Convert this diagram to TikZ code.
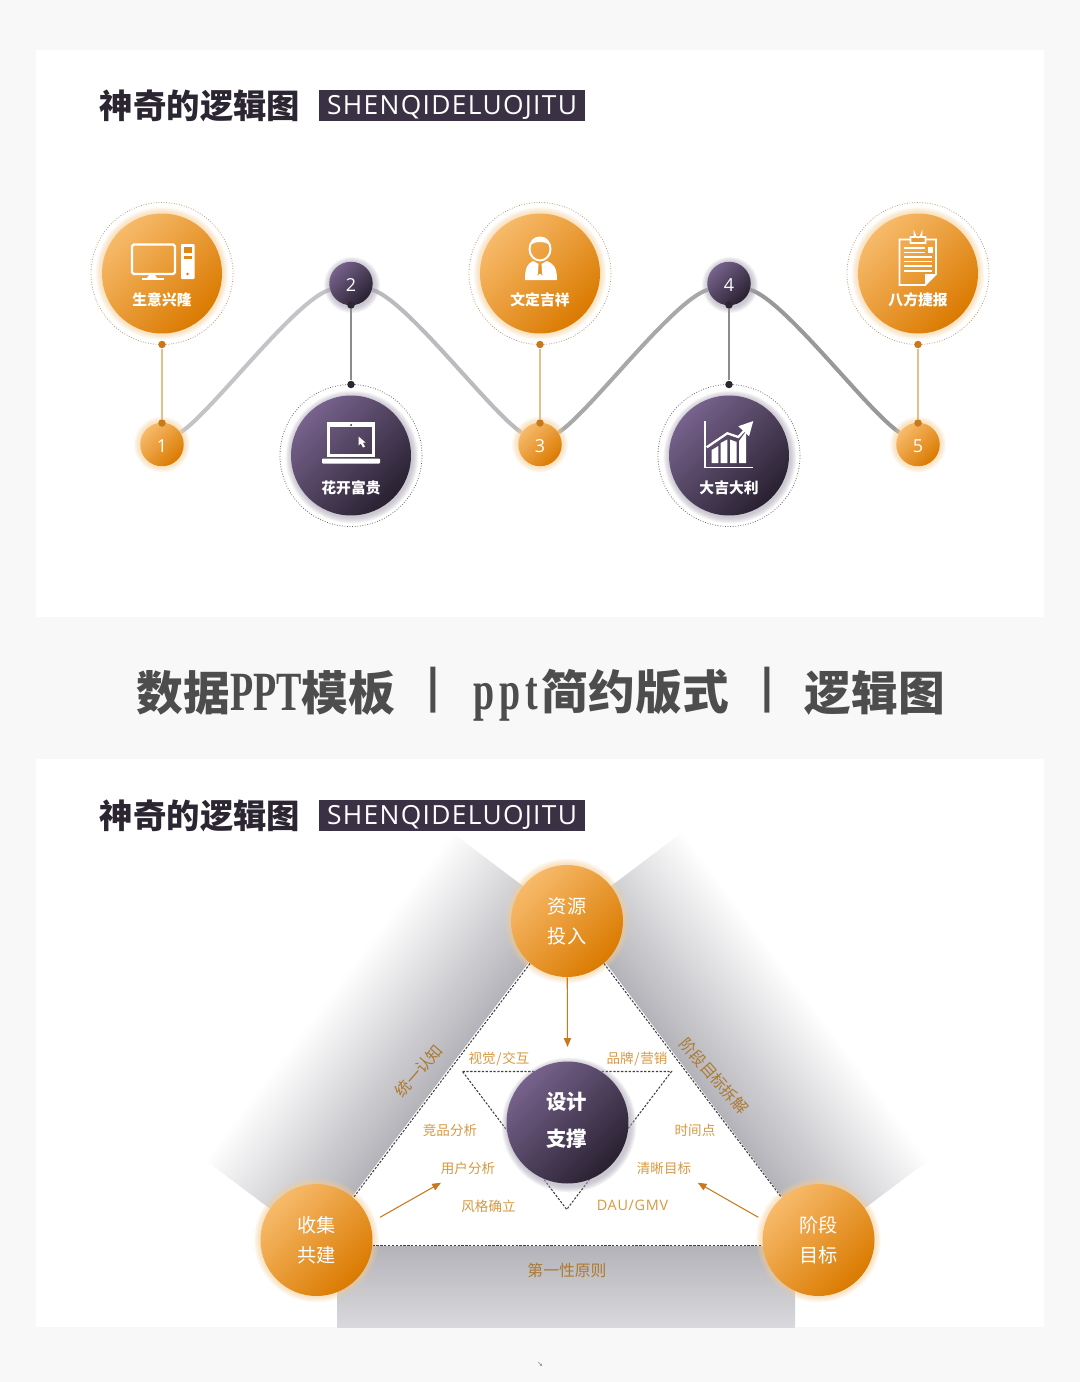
\documentclass[tikz,border=0pt]{standalone}
\usepackage{fontspec}
\usetikzlibrary{arrows.meta,backgrounds}
\newfontfamily\cjk{Noto Sans CJK SC}
\newfontfamily\latin{Open Sans}
\newfontfamily\latinspaced[LetterSpace=5]{Open Sans}
\newfontfamily\serifb{Liberation Serif}
\newfontfamily\markfont{DejaVu Sans}
\definecolor{orangelt}{HTML}{F7BA6A}
\definecolor{orangedk}{HTML}{DA7A00}
\definecolor{orangehalo}{HTML}{F9CF94}
\definecolor{purplelt}{HTML}{77628C}
\definecolor{purpledk}{HTML}{282130}
\definecolor{purplehalo}{HTML}{A8A2B2}
\definecolor{pagegray}{HTML}{F8F8F8}
\definecolor{inkdark}{HTML}{2B2631}
\definecolor{boxdark}{HTML}{3A3144}
\definecolor{midgray}{HTML}{4D4D4D}
\definecolor{orangeink}{HTML}{D9983F}
\definecolor{orangedot}{HTML}{C9791B}
\definecolor{orangerule}{HTML}{E6BE8A}
\definecolor{brownink}{HTML}{AD7A31}
\definecolor{bandgray}{HTML}{B3B3B9}
\definecolor{bandpale}{HTML}{D9D9DD}
\tikzset{
  discbase/.style={circle,inner sep=0pt,text=white,align=center},
  orangedisc/.style={discbase,top color=orangelt,bottom color=orangedk,shading angle=45},
  purpledisc/.style={discbase,top color=purplelt,bottom color=purpledk,shading angle=45},
  ringorange/.style={draw=orangerule!80!black,line width=.45pt,densely dotted},
  ringpurple/.style={draw=black!60,line width=.45pt,densely dotted},
  dotorange/.style={circle,fill=orangedot,inner sep=0pt,minimum size=.15cm},
  dotpurple/.style={circle,fill=inkdark,inner sep=0pt,minimum size=.15cm},
  ruleorange/.style={draw=orangerule,line width=.7pt},
  rulepurple/.style={draw=black!45,line width=.6pt},
  wave/.style={line width=2.3pt},
  iconline/.style={draw=white,line width=1.4pt},
  discname/.style={inner sep=0pt,text=white,font=\cjk\bfseries\fontsize{8.4}{10}\selectfont},
  numtext/.style={font=\latin\fontsize{10.2}{12}\selectfont},
  smalltext/.style={inner sep=0pt,text=orangeink,font=\cjk\fontsize{7.7}{9}\selectfont},
  sidetext/.style={inner sep=0pt,text=brownink,font=\cjk\fontsize{9}{11}\selectfont},
  dashtri/.style={draw=black!75,line width=.6pt,dash pattern=on 1.3pt off .9pt},
  flowarrow/.style={draw=orangedot,line width=.6pt,-{Triangle[length=5pt,width=4pt]}},
  maintitle/.style={inner sep=0pt,text=inkdark,font=\cjk\bfseries\fontsize{19}{22}\selectfont},
  tagbox/.style={fill=boxdark,text=white,inner sep=0pt,minimum width=5.32cm,minimum height=.62cm,text height=11.7pt,text depth=1pt,font=\latinspaced\fontsize{15}{16}\selectfont},
  midtitle/.style={inner sep=0pt,text=midgray,font=\cjk\bfseries\fontsize{26.6}{30}\selectfont}
}
\newcommand{\glow}[4]{\foreach \g in {1,...,7} \fill[#4,opacity=.11] (#1,#2) circle ({#3+\g*.9});}
\newcommand{\tallserif}[1]{\scalebox{.72}[1.05]{\serifb\bfseries\fontsize{30}{30}\selectfont #1}}
\begin{document}
\begin{tikzpicture}[x=.02cm,y=-.02cm]
\useasboundingbox (0,0) rectangle (1080,1382);

\begin{scope}[on background layer]
\fill[pagegray] (0,0) rectangle (1080,1382);
\fill[white] (36,50) rectangle (1044,617);
\fill[white] (36,759) rectangle (1044,1327);
\end{scope}

\node[maintitle] (titlea) at (200,106) {神奇的逻辑图};
\node[tagbox] (taga) at (452,105.5) {SHENQIDELUOJITU};
\node[maintitle] (titleb) at (200,816) {神奇的逻辑图};
\node[tagbox] (tagb) at (452,815.5) {SHENQIDELUOJITU};

\node[midtitle] (mida) at (266,692.5) {数据\tallserif{PPT}模板};
\node[midtitle] (barl) at (433,690) {\latin|};
\node[midtitle] (midb) at (601,695) {\tallserif{p\kern4pt p\kern4pt t\kern3pt}简约版式};
\node[midtitle] (barr) at (767,690) {\latin|};
\node[midtitle] (midc) at (875,692.5) {逻辑图};

\foreach \x/\n/\t in {162/a/生意兴隆,540/c/文定吉祥,918/e/八方捷报} {
  \glow{\x}{273.5}{60}{orangehalo}
  \draw[ringorange] (\x,273.5) circle (71);
  \node[orangedisc,minimum size=2.4cm] (disc\n) at (\x,273.5) {};
  \node[discname] (name\n) at (\x,299.5) {\t};
  \glow{\x}{444.5}{21.7}{orangehalo}
  \node[orangedisc,minimum size=.87cm] (num\n) at (\x,444.5) {};
  \node[dotorange] (top\n) at (\x,344.5) {};
  \node[dotorange] (bot\n) at (\x,423) {};
  \draw[ruleorange] (top\n) -- (bot\n);
}
\foreach \x/\n/\t in {351/b/花开富贵,729/d/大吉大利} {
  \glow{\x+1}{457}{60}{purplehalo}
  \draw[ringpurple] (\x,455.5) circle (71);
  \node[purpledisc,minimum size=2.4cm] (disc\n) at (\x,455.5) {};
  \node[discname] (name\n) at (\x,488) {\t};
  \glow{\x+1}{285}{21.7}{purplehalo}
  \node[purpledisc,minimum size=.87cm] (num\n) at (\x,283.5) {};
  \node[dotpurple] (top\n) at (\x,305) {};
  \node[dotpurple] (bot\n) at (\x,384.5) {};
  \draw[rulepurple] (top\n) -- (bot\n);
}
\foreach \n/\t in {a/1,b/2,c/3,d/4,e/5} \node[numtext,text=white,yshift=-.7pt] (digit\n) at (num\n) {\t};

\begin{scope}[on background layer]
\draw[wave,draw=black!5!blue!4!gray!45] (numa) .. controls +(50,-32.5) and +(-56,16.5) .. (numb);
\draw[wave,draw=black!5!blue!4!gray!52] (numb) .. controls +(56,16.5) and +(-50,-32.5) .. (numc);
\draw[wave,draw=gray!68] (numc) .. controls +(50,-32.5) and +(-56,16.5) .. (numd);
\draw[wave,draw=gray!80] (numd) .. controls +(56,16.5) and +(-50,-32.5) .. (nume);
\end{scope}

\draw[iconline,rounded corners=1pt] (132,244.5) rectangle (175,274);
\fill[white] (149,275) -- (155,275) -- (157,278) -- (147,278) -- cycle;
\fill[white] (142,277.5) rectangle (164,279.5);
\fill[white,rounded corners=.5pt] (181,244) rectangle (194.5,279);
\fill[orangedk!80!orangelt] (183.5,247) rectangle (192,253);
\fill[orangedk!80!orangelt] (183.5,256) rectangle (192,258.5);
\fill[orangedk] (187.5,274) circle (1.3);

\draw[iconline,line width=1.1pt] (540,249) ellipse (10.5 and 11.5);
\fill[white] (530.5,245) .. controls (530,234) and (550,234) .. (549.5,245) .. controls (545,241) and (535,241) .. cycle;
\fill[white] (533,261) -- (538.5,264) -- (537.5,277) -- (540,272) -- (542.5,277) -- (541.5,264) -- (547,261) .. controls (553,264) and (557,266) .. (557,280) -- (525,280) .. controls (525,266) and (528,264) .. cycle;
\fill[orangedk!60!orangelt] (539.3,264.5) rectangle (540.7,274);

\draw[iconline,line width=1pt] (899.5,239.5) -- (936,239.5) -- (936,274) -- (925,285) -- (899.5,285) -- cycle;
\fill[orangedk!50!orangelt] (910.5,235) rectangle (925.5,242);
\draw[iconline,line width=1pt,fill=orangedk!50!orangelt] (910.5,243) -- (910.5,237) -- (914.5,237) -- (914.5,234) arc (180:0:3.5) -- (921.5,237) -- (925.5,237) -- (925.5,243) -- cycle;
\foreach \ly in {247,251.5} \fill[white] (903.5,\ly) rectangle (925,\ly+1.5);
\foreach \ly in {256,260.5,265,270} \fill[white] (903.5,\ly) rectangle (932,\ly+1.5);
\fill[white] (927.5,247) rectangle (932.5,252.5);
\fill[white] (936,274) -- (925,285) -- (925,274) -- cycle;

\draw[iconline] (328.5,423.5) rectangle (373.5,455.5);
\fill[white] (328,423) rectangle (374,426.5);
\fill[purpledk] (351,425) circle (1);
\fill[white,rounded corners=.5pt] (322,458.5) rectangle (380,463.5);
\fill[white] (358.5,436.5) -- (358.5,445.5) -- (360.8,443.5) -- (363,447.5) -- (365,446.5) -- (362.8,442.8) -- (365.5,442.5) -- cycle;

\draw[iconline,line width=1pt] (705,421) -- (705,467.5) -- (752.5,467.5);
\fill[white] (711.7,450) -- (718.3,446) -- (718.3,463) -- (711.7,463) -- cycle;
\fill[white] (720.7,443) -- (727.3,439.5) -- (727.3,463) -- (720.7,463) -- cycle;
\fill[white] (730,439.5) -- (736.7,442) -- (736.7,463) -- (730,463) -- cycle;
\fill[white] (739,441) -- (746,431.5) -- (746,463) -- (739,463) -- cycle;
\draw[draw=white,line width=1.3pt,-{Triangle[length=8pt,width=8pt]}] (706.7,447.3) -- (727.3,433.3) -- (738.3,437) -- (753.3,421);

\begin{scope}[transform canvas={shift={(384,1038)},rotate=53}]
\shade[top color=white,bottom color=bandgray] (-205,-70) rectangle (205,70);
\end{scope}
\begin{scope}[transform canvas={shift={(750,1038)},rotate=-53}]
\shade[top color=white,bottom color=bandgray] (-205,-70) rectangle (205,70);
\end{scope}
\shade[top color=bandgray,bottom color=bandpale] (337,1246) rectangle (795,1327);

\coordinate (trinw) at (462.5,1071.5);
\coordinate (trine) at (671.5,1071.5);
\coordinate (tris) at (566.7,1209.5);
\draw[dashtri] (trinw) -- (trine) -- (tris) -- cycle;

\glow{567}{921}{56}{orangehalo}
\glow{316.5}{1240}{56}{orangehalo}
\glow{818.5}{1240}{56}{orangehalo}
\glow{569}{1125}{61}{purplehalo}
\node[orangedisc,minimum size=2.24cm,font=\cjk\fontsize{10.9}{13}\selectfont] (supply) at (567,921) {资源\\[4pt]投入};
\node[orangedisc,minimum size=2.24cm,font=\cjk\fontsize{10.9}{13}\selectfont] (collect) at (316.5,1240) {收集\\[4pt]共建};
\node[orangedisc,minimum size=2.24cm,font=\cjk\fontsize{10.9}{13}\selectfont] (target) at (818.5,1240) {阶段\\[4pt]目标};
\node[purpledisc,minimum size=2.44cm] (design) at (567.5,1122.5) {};
\node[inner sep=0pt,text=white,align=center,font=\cjk\bfseries\fontsize{11.6}{14}\selectfont] (designtext) at (566.5,1120.3) {设计\\[7pt]支撑};

\draw[dashtri] (supply.229) -- (collect.49);
\draw[dashtri] (supply.311) -- (target.131);
\draw[dashtri] (collect.-6) -- (target.186);

\coordinate (arrowc) at (567.5,1047);
\coordinate (arrowls) at (380,1217.3);
\coordinate (arrowle) at (441,1182.7);
\coordinate (arrowrs) at (758.3,1217.3);
\coordinate (arrowre) at (697.7,1182.7);
\draw[flowarrow] (supply) -- (arrowc);
\draw[flowarrow] (arrowls) -- (arrowle);
\draw[flowarrow] (arrowrs) -- (arrowre);

\node[smalltext] (lvis) at (499,1058.5) {视觉\kern.4pt/\kern.4pt交互};
\node[smalltext] (lbrand) at (637,1058.5) {品牌\kern.4pt/\kern.4pt营销};
\node[smalltext] (lcomp) at (450,1130) {竞品分析};
\node[smalltext] (ltime) at (695,1130) {时间点};
\node[smalltext] (luser) at (468,1168) {用户分析};
\node[smalltext] (lgoal) at (664,1168) {清晰目标};
\node[smalltext] (lstyle) at (488.5,1206.5) {风格确立};
\node[smalltext,font=\latinspaced\fontsize{8.2}{9}\selectfont] (ldau) at (632.5,1205.5) {DAU/GMV};
\node[sidetext] (sideb) at (567,1270) {第一性原则};
\node[sidetext,rotate=49] (sidel) at (419,1071) {统一认知};
\node[sidetext,rotate=-49] (sider) at (714,1076) {阶段目标拆解};

\node[text=black!55,inner sep=0pt,font=\markfont\fontsize{4}{5}\selectfont] (markb) at (540,1364) {↘};
\end{tikzpicture}
\end{document}
